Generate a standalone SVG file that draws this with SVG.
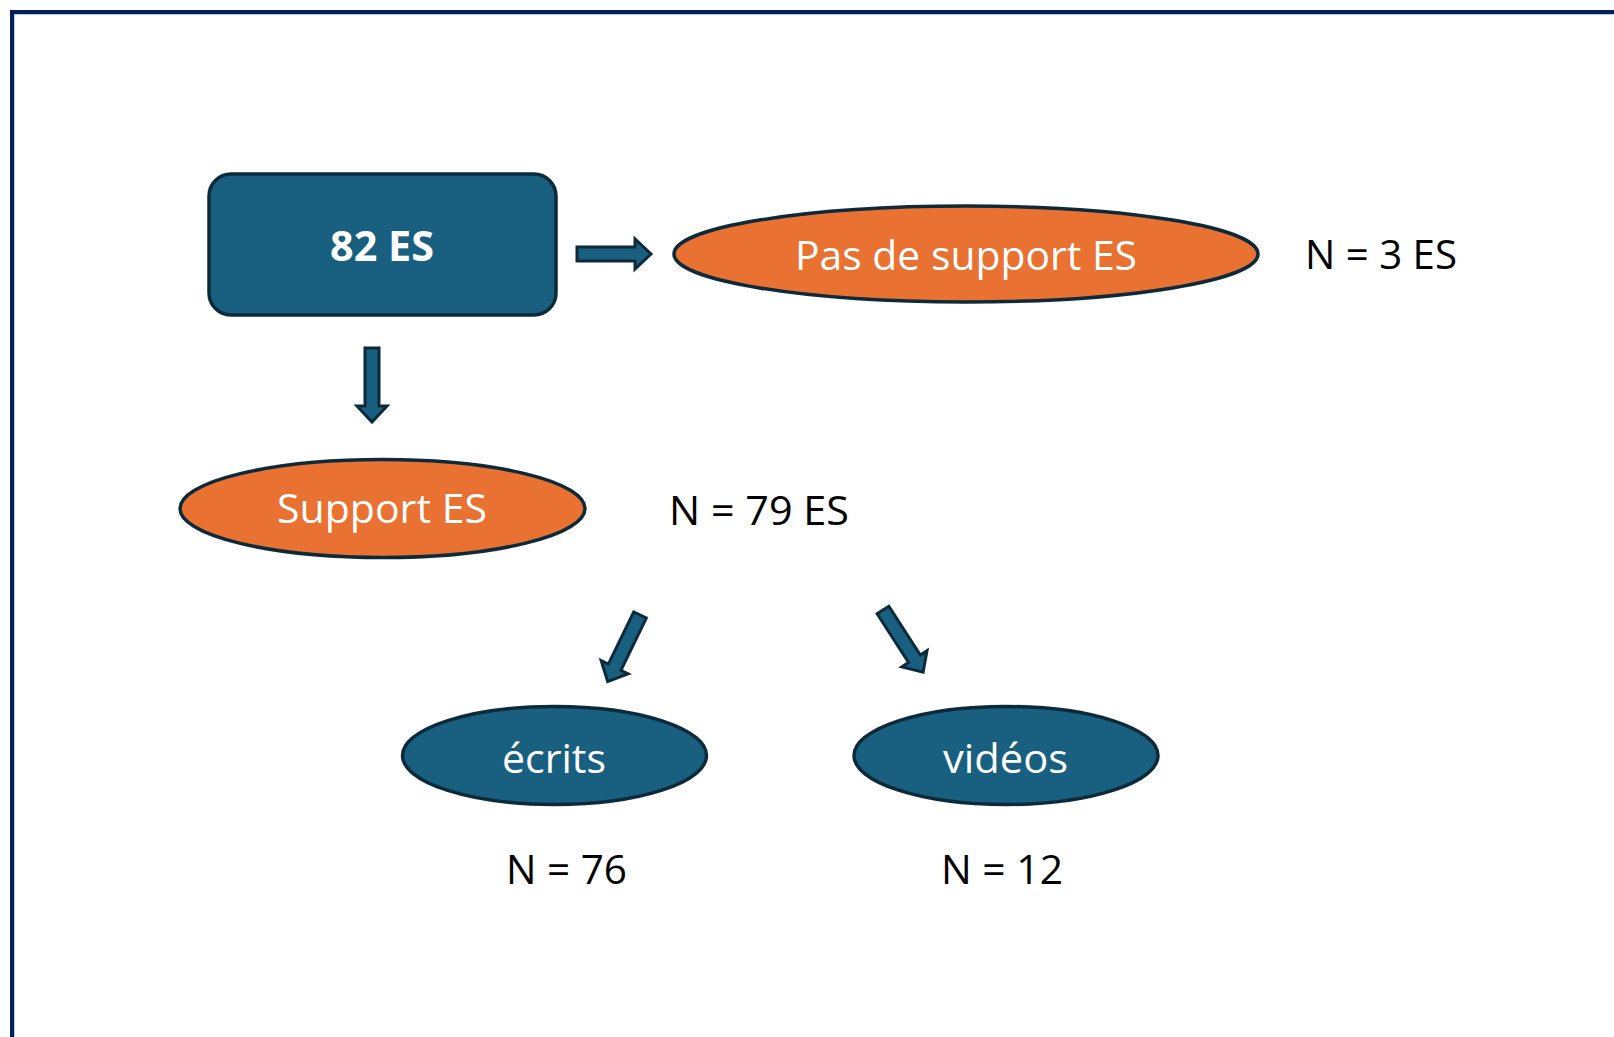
<svg xmlns="http://www.w3.org/2000/svg" xmlns:xlink="http://www.w3.org/1999/xlink" width="1614" height="1037" viewBox="0 0 1614 1037">
<style>
.blue{fill:#185F80;stroke:#0D2A3A;stroke-width:3.5}
.orange{fill:#E97132;stroke:#0D2A3A;stroke-width:3.5}
.lbl{font-family:"Open Sans","Noto Sans","Liberation Sans",sans-serif;font-size:41px;fill:#FFFFFF;text-anchor:middle}
.bold{font-weight:bold;font-size:42px}
.num{font-family:"Open Sans","Noto Sans","Liberation Sans",sans-serif;font-size:41px;fill:#000000}
.arrow{fill:#185F80;stroke:#0D2A3A;stroke-width:3;stroke-linejoin:miter}
</style>
<defs>
<path id="arr" d="M0,-7 L58,-7 L58,-15 L74,0 L58,15 L58,7 L0,7 Z"/>
</defs>
<rect x="0" y="0" width="1614" height="1037" fill="#FFFFFF"/>
<g id="frame">
<rect x="12" y="12" width="1700" height="1100" fill="none" stroke="#002060" stroke-width="4"/>
<rect x="14.5" y="14.5" width="1700" height="1100" fill="none" stroke="#B4C7E7" stroke-width="1"/>
</g>
<g id="connectors">
<use xlink:href="#arr" class="arrow" transform="translate(577,254)"/>
<use xlink:href="#arr" class="arrow" transform="translate(372,348) rotate(90)"/>
<use xlink:href="#arr" class="arrow" transform="translate(640,615) rotate(115.9)"/>
<use xlink:href="#arr" class="arrow" transform="translate(883,610) rotate(57.2)"/>
</g>
<g id="node-82es">
<rect x="209" y="174" width="347" height="141" rx="22" ry="22" class="blue"/>
<text x="382" y="261" class="lbl bold" textLength="104" lengthAdjust="spacingAndGlyphs">82 ES</text>
</g>
<g id="node-pas-de-support">
<ellipse cx="966" cy="254" rx="292" ry="48" class="orange"/>
<text x="966" y="270" class="lbl" textLength="342" lengthAdjust="spacingAndGlyphs">Pas de support ES</text>
</g>
<g id="label-n3">
<text x="1305" y="269" class="num" textLength="152" lengthAdjust="spacingAndGlyphs">N = 3 ES</text>
</g>
<g id="node-support">
<ellipse cx="382.5" cy="508.5" rx="202.5" ry="49" class="orange"/>
<text x="382" y="523" class="lbl" textLength="210" lengthAdjust="spacingAndGlyphs">Support ES</text>
</g>
<g id="label-n79">
<text x="669" y="525" class="num" textLength="180" lengthAdjust="spacingAndGlyphs">N = 79 ES</text>
</g>
<g id="node-ecrits">
<ellipse cx="554.5" cy="755.5" rx="152" ry="49" class="blue"/>
<text x="554" y="773" class="lbl" textLength="104" lengthAdjust="spacingAndGlyphs">écrits</text>
</g>
<g id="node-videos">
<ellipse cx="1006" cy="755.5" rx="152" ry="49" class="blue"/>
<text x="1005.5" y="773" class="lbl" textLength="125" lengthAdjust="spacingAndGlyphs">vidéos</text>
</g>
<g id="label-n76">
<text x="506" y="884" class="num" textLength="121" lengthAdjust="spacingAndGlyphs">N = 76</text>
</g>
<g id="label-n12">
<text x="941" y="884" class="num" textLength="122" lengthAdjust="spacingAndGlyphs">N = 12</text>
</g>
</svg>
